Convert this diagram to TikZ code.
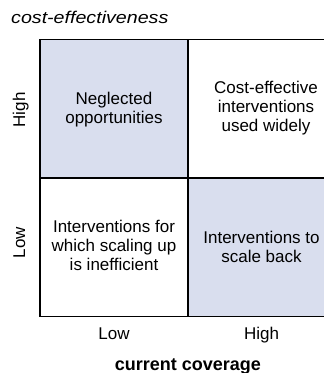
\documentclass[tikz,border=0pt]{standalone}
\usepackage{fontspec}
\setmainfont{Liberation Sans}
\usepackage{graphicx}
\definecolor{lav}{RGB}{217,222,238}
\begin{document}
\begin{tikzpicture}[x=1pt,y=-1pt,
  cell/.style={draw=black, line width=1.5pt, minimum width=148pt, minimum height=138.5pt,
    inner sep=0pt, outer sep=0pt, anchor=north west},
  shaded/.style={cell, fill=lav},
  celltext/.style={align=center, font=\fontsize{17}{19}\selectfont, inner sep=0pt},
  axislbl/.style={font=\fontsize{17}{19}\selectfont, inner sep=0pt, anchor=base}]
\useasboundingbox (0,0) rectangle (324,373);
\clip (0,0) rectangle (324,373);
\node[shaded] (q1) at (40,39.5) {};
\node[cell] (q2) at (188,39.5) {};
\node[cell] (q3) at (40,178) {};
\node[shaded] (q4) at (188,178) {};
\node[celltext] (t1) at (114,110) {Neglected\\opportunities};
\node[celltext] (t2) at (266,107.7) {Cost-effective\\interventions\\used widely};
\node[celltext] (t3) at (114,245.3) {Interventions for\\which scaling up\\is inefficient};
\node[celltext] (t4) at (261.5,246.8) {Interventions to\\scale back};
\node[axislbl, rotate=90] (yhigh) at (25,110) {High};
\node[axislbl, rotate=90] (ylow) at (25,242.5) {Low};
\node[axislbl] (xlow) at (114,339.5) {Low};
\node[axislbl] (xhigh) at (261.5,339.5) {High};
\node[anchor=base west, inner sep=0pt, font=\fontsize{17}{19}\selectfont\itshape] (title) at (11,23) {\scalebox{1.155}[1]{cost-effectiveness}};
\node[anchor=base, inner sep=0pt, font=\fontsize{18}{20}\selectfont\bfseries] (xtitle) at (188,370) {current coverage};
\end{tikzpicture}
\end{document}
